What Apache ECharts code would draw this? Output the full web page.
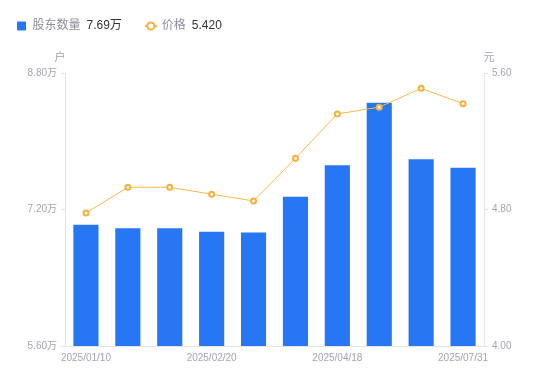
<!DOCTYPE html>
<html>
<head>
<meta charset="utf-8">
<script src="https://cdn.jsdelivr.net/npm/echarts@6/dist/echarts.min.js"></script>
<style>html,body{margin:0;padding:0;background:#fff;}#c{width:550px;height:381px;}</style>
</head>
<body>
<div id="c"></div>
<script>
var categories = ['2025/01/10','2025/01/20','2025/02/10','2025/02/20','2025/03/10','2025/03/31','2025/04/18','2025/05/20','2025/06/30','2025/07/31'];
var holders = [7.02, 6.98, 6.98, 6.94, 6.93, 7.35, 7.72, 8.45, 7.79, 7.69];
var prices = [4.78, 4.93, 4.93, 4.89, 4.85, 5.10, 5.36, 5.40, 5.51, 5.42];
var leftTicks = {min: 5.6, max: 8.8, interval: 1.6};
var rightTicks = {min: 4.0, max: 5.6, interval: 0.8};

var FONT = 'Liberation Sans, Arial, Noto Sans CJK SC, sans-serif';
var chart = echarts.init(document.getElementById('c'), null, {renderer: 'canvas'});
var axisGray = '#e3e4e8';
var labelGray = '#a3a5b3';
chart.setOption({
  animation: false,
  textStyle: {fontFamily: FONT},
  legend: {
    left: 12, top: 15,
    itemWidth: 12, itemHeight: 9, itemGap: 22,
    data: [
      {name: '股东数量', icon: 'path://M1,0h8a1,1 0 0 1 1,1v8a1,1 0 0 1 -1,1h-8a1,1 0 0 1 -1,-1v-8a1,1 0 0 1 1,-1z'},
      {name: '价格'}
    ],
    formatter: function (name) {
      if (name === '股东数量') return '{n|' + name + '}{v|' + holders[holders.length - 1].toFixed(2) + '万}';
      return '{n|' + name + '}{v|' + prices[prices.length - 1].toFixed(3) + '}';
    },
    textStyle: {
      fontFamily: FONT,
      rich: {
        n: {color: '#8d8f9c', fontSize: 12, fontFamily: FONT},
        v: {color: '#333333', fontSize: 12, padding: [0, 0, 0, 6], fontFamily: FONT}
      }
    }
  },
  grid: {left: 65, right: 66, top: 73, bottom: 35, containLabel: false},
  xAxis: {
    type: 'category',
    data: categories,
    boundaryGap: true,
    axisLine: {lineStyle: {color: axisGray}},
    axisTick: {show: false},
    axisLabel: {interval: 2, color: labelGray, fontSize: 10, margin: 7, fontFamily: FONT}
  },
  yAxis: [
    {
      type: 'value', name: '户', nameGap: 10,
      nameTextStyle: {color: labelGray, fontSize: 11, align: 'center', padding: [0, 0, 0, -10]},
      min: leftTicks.min, max: leftTicks.max, interval: leftTicks.interval,
      axisLine: {show: true, lineStyle: {color: axisGray}},
      axisTick: {show: true, length: 4, lineStyle: {color: axisGray}},
      splitLine: {show: false},
      axisLabel: {color: labelGray, fontSize: 10, margin: 8, fontFamily: FONT,
        formatter: function (v) { return v.toFixed(2) + '万'; }}
    },
    {
      type: 'value', name: '元', nameGap: 10,
      nameTextStyle: {color: labelGray, fontSize: 11, align: 'center', padding: [0, 0, 0, 10]},
      min: rightTicks.min, max: rightTicks.max, interval: rightTicks.interval,
      axisLine: {show: true, lineStyle: {color: axisGray}},
      axisTick: {show: true, length: 4, lineStyle: {color: axisGray}},
      splitLine: {show: false},
      axisLabel: {color: labelGray, fontSize: 10, margin: 8, fontFamily: FONT,
        formatter: function (v) { return v.toFixed(2); }}
    }
  ],
  series: [
    {
      name: '股东数量', type: 'bar', yAxisIndex: 0,
      data: holders, barWidth: '60%',
      itemStyle: {color: '#2777f5'}
    },
    {
      name: '价格', type: 'line', yAxisIndex: 1,
      data: prices,
      symbol: 'emptyCircle', symbolSize: 5,
      lineStyle: {color: '#f8b94c', width: 1},
      itemStyle: {color: '#f8b03a', borderWidth: 2}
    }
  ]
});
</script>
</body>
</html>
